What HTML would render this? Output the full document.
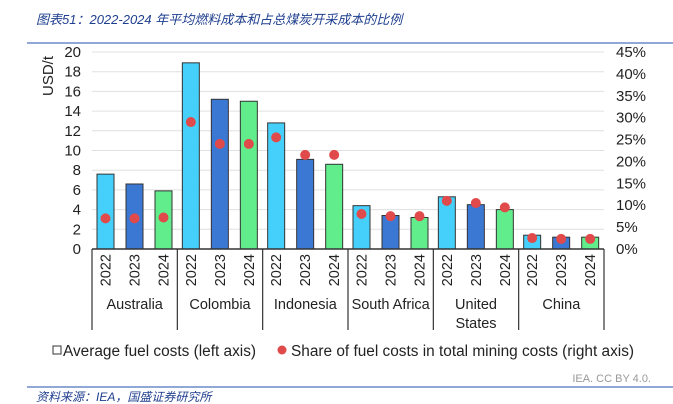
<!DOCTYPE html>
<html><head><meta charset="utf-8"><style>
body{margin:0;background:#fff;width:673px;height:404px;overflow:hidden;font-family:"Liberation Sans",sans-serif}
svg{display:block}
</style></head><body>
<svg id="c" width="673" height="404" font-family="Liberation Sans, Noto Sans CJK SC, sans-serif">
<text x="36" y="24" font-size="13" font-style="italic" fill="#1f3f8f">图表51：2022-2024 年平均燃料成本和占总煤炭开采成本的比例</text>
<line x1="27" y1="43" x2="673" y2="43" stroke="#6b8cc7" stroke-width="1.5"/>
<g id="grid"></g><g id="bars"></g><g id="dots"></g><g id="axes"></g>
<text transform="translate(53,76) rotate(-90)" font-size="15" text-anchor="middle" fill="#222">USD/t</text>
<g>
<rect x="53" y="346" width="8" height="8" fill="#fff" stroke="#333"/>
<text x="63" y="356" font-size="15.4" fill="#222">Average fuel costs (left axis)</text>
<circle cx="282" cy="350" r="4.5" fill="#e04a4a"/>
<text x="291" y="356" font-size="15.4" fill="#222">Share of fuel costs in total mining costs (right axis)</text>
</g>
<text x="651" y="382" font-size="11" fill="#999" text-anchor="end">IEA. CC BY 4.0.</text>
<line x1="27" y1="387" x2="673" y2="387" stroke="#6b8cc7" stroke-width="1.5"/>
<text x="36" y="401" font-size="12" font-style="italic" fill="#1f3f8f">资料来源：IEA，国盛证券研究所</text>
</svg>
<script>
const countries=["Australia","Colombia","Indonesia","South Africa","United States","China"];
const years=["2022","2023","2024"];
const fuelCosts=[[7.6,6.6,5.9],[18.9,15.2,15.0],[12.8,9.1,8.6],[4.4,3.4,3.2],[5.3,4.5,4.0],[1.4,1.2,1.2]];
const shares=[[7.0,7.0,7.2],[29,24,24],[25.5,21.5,21.5],[8,7.5,7.5],[11,10.5,9.5],[2.5,2.3,2.3]];
const leftTicks=[0,2,4,6,8,10,12,14,16,18,20];
const rightTicks=[0,5,10,15,20,25,30,35,40,45];
const colors=["#45d0fc","#3b78d4","#62ed8c"];
const NS="http://www.w3.org/2000/svg";
const X0=92,X1=604,Y0=249,Y1=52;
const gw=(X1-X0)/countries.length;
const yL=v=>Y0-(v/20)*(Y0-Y1);
const yR=v=>Y0-(v/45)*(Y0-Y1);
const bx=(g,i)=>X0+gw*g+13.5+i*29;
function mk(t,a,p,txt){const e=document.createElementNS(NS,t);for(const k in a)e.setAttribute(k,a[k]);if(txt!==undefined)e.textContent=txt;p.appendChild(e);return e;}
const grid=document.getElementById('grid'),bars=document.getElementById('bars'),dots=document.getElementById('dots'),axes=document.getElementById('axes');
leftTicks.forEach(v=>{
 const l=mk('line',{x1:X0,x2:X1,y1:yL(v),y2:yL(v),stroke:'#e0e0e0','stroke-width':1},grid);
 
 
 const t=mk('text',{x:81,y:yL(v)+5,'font-size':15,'text-anchor':'end',fill:'#222'},axes,String(v));
 
 
});
rightTicks.forEach(v=>{
 const t=mk('text',{x:616,y:yR(v)+5,'font-size':15,fill:'#222'},axes,v+'%');
 
 
});
fuelCosts.forEach((arr,g)=>arr.forEach((v,i)=>{
 const r=mk('rect',{x:bx(g,i)-8.5,y:yL(v),width:17,height:Y0-yL(v),fill:colors[i],stroke:'#333','stroke-width':1},bars);
 
 
}));
shares.forEach((arr,g)=>arr.forEach((v,i)=>{
 const c=mk('circle',{cx:bx(g,i),cy:yR(v),r:5,fill:'#e04a4a'},dots);
 
 
}));
const ax=mk('line',{x1:X0,x2:X1,y1:Y0,y2:Y0,stroke:'#333','stroke-width':1.5},axes);


for(let g=0;g<=countries.length;g++){
 const d=mk('line',{x1:X0+gw*g,x2:X0+gw*g,y1:Y0,y2:330,stroke:'#333','stroke-width':1.2},axes);
 
 
}
countries.forEach((c,g)=>{
 years.forEach((y,i)=>{
  const x=bx(g,i)+5;
  const t=mk('text',{transform:`translate(${x},${Y0+5}) rotate(-90)`,'font-size':14.5,'text-anchor':'end',fill:'#222'},axes,y);
  
  
 });
 const cx=X0+gw*g+gw/2;
 if(c==="United States"){
  ['United','States'].forEach((w,k)=>{
   const t=mk('text',{x:cx,y:309+k*19,'font-size':14.5,'text-anchor':'middle',fill:'#222'},axes,w);
   
   
  });
 } else {
  const t=mk('text',{x:cx,y:309,'font-size':14.5,'text-anchor':'middle',fill:'#222'},axes,c);
  
  
 }
});
</script>
</body></html>
